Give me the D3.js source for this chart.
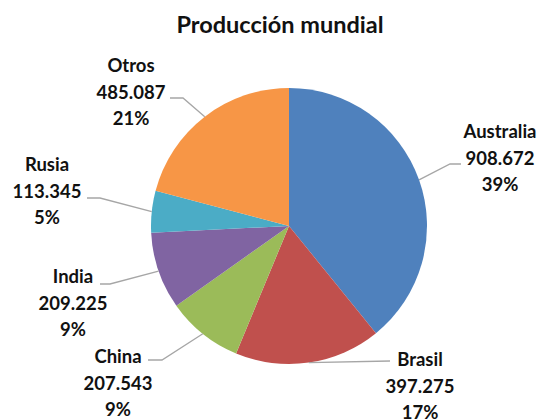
<!DOCTYPE html>
<html>
<head>
<meta charset="utf-8">
<script src="https://cdn.jsdelivr.net/npm/d3@7"></script>
<style>
  body { margin: 0; background: #fff; }
  svg { display: block; }
</style>
</head>
<body>
<svg id="chart"></svg>
<script>
const width = 540;
const height = 419;

// datos
const paises = ["Australia", "Brasil", "China", "India", "Rusia", "Otros"];
const produccion = [908672, 397275, 207543, 209225, 113345, 485087];
const colores = ["#4F81BD", "#C0504D", "#9BBB59", "#8064A2", "#4BACC6", "#F79646"];

// posición de las etiquetas (centro del bloque, baseline de la primera línea)
const etiquetas = {
  Australia: { x: 500, y: 138, codo: [[450, 164], [461, 164]] },
  Brasil:    { x: 420, y: 366, codo: [[390, 361]] },
  China:     { x: 118, y: 363, codo: [[162, 360], [148, 360]] },
  India:     { x: 73,  y: 283, codo: [[110, 284], [100, 284]] },
  Rusia:     { x: 47,  y: 171, codo: [[100, 198], [87, 198]] },
  Otros:     { x: 131, y: 72,  codo: [[183, 98], [170, 98]] }
};

const cx = 289, cy = 226, radius = 138;
const lineHeight = 26.5;

const es = d3.formatLocale({ decimal: ",", thousands: ".", grouping: [3], currency: ["", "€"] });
const fmtNum = es.format(",d");
const fmtPct = d3.format(".0%");

const datos = paises.map((p, i) => ({ pais: p, valor: produccion[i], color: colores[i] }));
const total = d3.sum(produccion);

const svg = d3.select("#chart").attr("width", width).attr("height", height);

// titulo
svg.append("text")
  .attr("x", 280)
  .attr("y", 33)
  .attr("text-anchor", "middle")
  .attr("font-family", "Lato, 'Open Sans', sans-serif")
  .attr("font-weight", "bold")
  .attr("font-size", "23.5px")
  .attr("fill", "#111")
  .text("Producción mundial");

const pie = d3.pie().sort(null).value(d => d.valor);
const arc = d3.arc().innerRadius(0).outerRadius(radius);
const arcBorde = d3.arc().innerRadius(radius).outerRadius(radius);

const g = svg.append("g").attr("transform", `translate(${cx},${cy})`);
const arcos = pie(datos);

g.selectAll("path.slice")
  .data(arcos)
  .join("path")
  .attr("class", "slice")
  .attr("d", arc)
  .attr("fill", d => d.data.color);

// líneas guía
svg.selectAll("polyline.guia")
  .data(arcos)
  .join("polyline")
  .attr("class", "guia")
  .attr("fill", "none")
  .attr("stroke", "#a6a6a6")
  .attr("stroke-width", 1.3)
  .attr("points", d => {
    const [px, py] = arcBorde.centroid(d);
    const pts = [[px + cx, py + cy]].concat(etiquetas[d.data.pais].codo);
    return pts.map(p => p.join(",")).join(" ");
  });

// etiquetas
const lab = svg.selectAll("text.etiqueta")
  .data(arcos)
  .join("text")
  .attr("class", "etiqueta")
  .attr("text-anchor", "middle")
  .attr("font-family", "Lato, 'Open Sans', sans-serif")
  .attr("font-weight", "bold")
  .attr("font-size", "18.5px")
  .attr("fill", "#111")
  .attr("x", d => etiquetas[d.data.pais].x)
  .attr("y", d => etiquetas[d.data.pais].y);

lab.each(function (d) {
  const t = d3.select(this);
  const x = etiquetas[d.data.pais].x;
  const lineas = [d.data.pais, fmtNum(d.data.valor), fmtPct(d.data.valor / total)];
  lineas.forEach((s, i) => {
    t.append("tspan").attr("x", x).attr("dy", i === 0 ? 0 : lineHeight).text(s);
  });
});
</script>
</body>
</html>
